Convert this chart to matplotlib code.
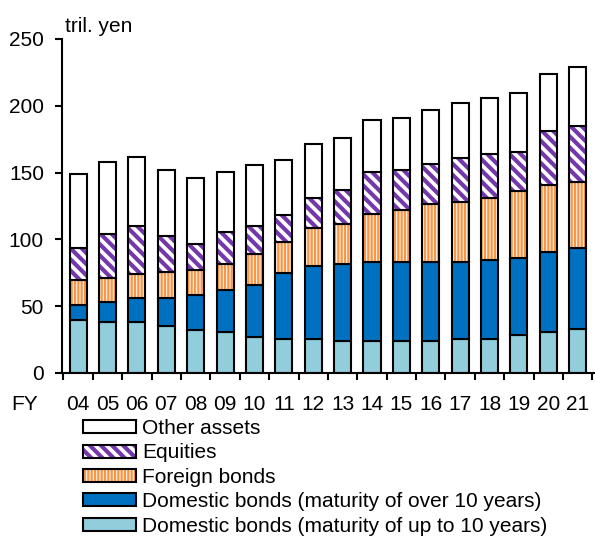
import numpy as np
import matplotlib.pyplot as plt
from matplotlib.colors import to_rgba
from matplotlib.patches import Patch

plt.rcParams["font.family"] = ["Liberation Sans", "DejaVu Sans"]

# Data (tril. yen); stacked layer values
years = ["04", "05", "06", "07", "08", "09", "10", "11", "12",
         "13", "14", "15", "16", "17", "18", "19", "20", "21"]
dom_short = [39.7, 38.4, 38.2, 35.4, 32.4, 30.9, 26.7, 25.1, 25.1,
             24.0, 24.0, 24.0, 24.0, 25.1, 25.1, 28.1, 30.9, 32.7]
dom_long = [11.2, 14.7, 18.2, 21.0, 25.7, 31.2, 38.8, 49.5, 55.2,
            57.6, 59.3, 59.3, 59.3, 58.2, 59.5, 58.2, 59.9, 61.1]
foreign = [18.7, 18.3, 17.6, 19.2, 18.9, 19.5, 23.6, 23.7, 28.5,
           29.9, 35.4, 38.7, 43.2, 44.9, 46.4, 49.9, 49.6, 49.5]
equities = [24.2, 32.6, 36.0, 27.2, 19.6, 24.2, 21.2, 19.7, 22.4,
            25.5, 31.5, 29.7, 29.7, 32.7, 32.6, 28.9, 40.4, 41.7]
other = [55.2, 54.0, 51.4, 49.2, 49.6, 44.9, 45.1, 41.4, 40.2,
         39.2, 39.2, 39.4, 40.7, 40.9, 42.5, 44.2, 43.0, 43.8]

labels = ["Domestic bonds (maturity of up to 10 years)",
          "Domestic bonds (maturity of over 10 years)",
          "Foreign bonds", "Equities", "Other assets"]

styles = [
    dict(facecolor="#92CDDC", hatch=None, hatch_color=None, hlw=1.0),
    dict(facecolor="#0070C0", hatch=None, hatch_color=None, hlw=1.0),
    dict(facecolor="#FFF3EA", hatch="|" * 5, hatch_color="#F79646", hlw=1.6),
    dict(facecolor="#FFFFFF", hatch="\\" * 3, hatch_color="#7538AC", hlw=3.0),
    dict(facecolor="#FFFFFF", hatch=None, hatch_color=None, hlw=1.0),
]


def style_hatch(p, st):
    p.set_edgecolor("black")
    if st["hatch"]:
        p.set_hatch_linewidth(st["hlw"])
        p._hatch_color = to_rgba(st["hatch_color"])


fig = plt.figure(figsize=(5.95, 5.36), dpi=100)
ax = fig.add_axes([62 / 595, 1 - 373 / 536, 1 - 62 / 595, (373 - 39) / 536])

x = np.arange(len(years))
bottom = np.zeros(len(years))
handles = []
for vals, lab, st in zip([dom_short, dom_long, foreign, equities, other], labels, styles):
    bars = ax.bar(x, vals, 0.58, bottom=bottom, color=st["facecolor"],
                  edgecolor="black", linewidth=1.5, hatch=st["hatch"])
    for b in bars:
        style_hatch(b, st)
    bottom += np.array(vals)
    h = Patch(facecolor=st["facecolor"], edgecolor="black", linewidth=1.5,
              hatch=st["hatch"])
    style_hatch(h, st)
    handles.append(h)

ax.set_xlim(-0.55, len(years) - 0.41)
ax.set_ylim(0, 250)
ax.set_yticks(np.arange(0, 251, 50))
ax.set_xticks(x)
ax.set_xticklabels(years)
ax.set_xticks(np.arange(-0.5, len(years), 1), minor=True)
ax.tick_params(axis="x", which="major", length=0, pad=16, labelsize=15)
ax.tick_params(axis="x", which="minor", length=5, width=1.5, direction="out")
ax.tick_params(axis="y", length=5, width=1.5, direction="out", pad=8, labelsize=15)
for s in ["top", "right"]:
    ax.spines[s].set_visible(False)
for s in ["left", "bottom"]:
    ax.spines[s].set_linewidth(1.5)

fig.text(65 / 595, 1 - 32 / 536, "tril. yen", fontsize=15, va="baseline", ha="left")
fig.text(11 / 595, 1 - 410 / 536, "FY", fontsize=15, va="baseline", ha="left")

leg = fig.legend(handles[::-1], labels[::-1], loc="upper left",
                 bbox_to_anchor=(83 / 595, 1 - 419 / 536), frameon=False,
                 fontsize=15, handlelength=2.55, handleheight=0.58,
                 handletextpad=0.3, labelspacing=0.26, borderpad=0,
                 borderaxespad=0)
for lh, st in zip(leg.legend_handles, styles[::-1]):
    style_hatch(lh, st)

fig.savefig("out.png", dpi=100)
